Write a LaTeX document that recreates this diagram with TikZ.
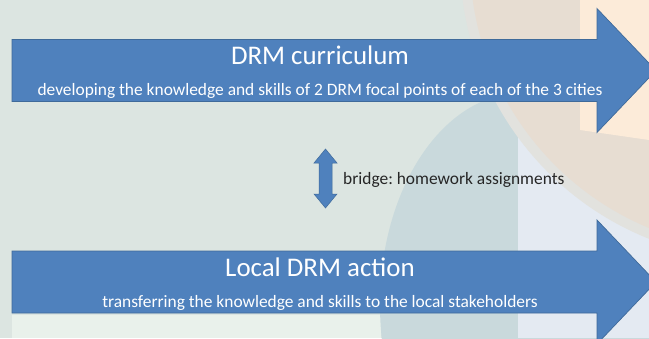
\documentclass[tikz,border=0pt]{standalone}
\usepackage{fontspec}
\setmainfont{Carlito}
\frenchspacing
\definecolor{arrowblue}{HTML}{4F81BD}
\definecolor{arrowedge}{HTML}{3F6A9A}
\definecolor{bgbase}{HTML}{DCE5E1}
\definecolor{bglight}{HTML}{E9F1EB}
\definecolor{bgsky}{HTML}{E4EAF2}
\definecolor{bgsteel}{HTML}{C9D9DC}
\definecolor{bgband}{HTML}{E2E2DE}
\definecolor{bgtan}{HTML}{E7DDD2}
\definecolor{bgpeach}{HTML}{FCEBD9}
\definecolor{bridgetext}{HTML}{262626}
\begin{document}
\begin{tikzpicture}[x=1pt,y=-1pt,
  bigarrow/.style={fill=arrowblue,draw=arrowedge,line width=0.7pt,line join=miter},
  titletext/.style={text=white,inner sep=0pt,font=\fontsize{26.9}{31}\selectfont},
  subtext/.style={text=white,inner sep=0pt,font=\fontsize{17.4}{20}\selectfont},
  bridgelabel/.style={text=bridgetext,inner sep=0pt,anchor=west,font=\fontsize{17.4}{20}\selectfont}]
\useasboundingbox (0,0) rectangle (649,338);
% background
\begin{scope}
\clip (0,0) rectangle (649,338);
\fill[bgbase] (0,0) rectangle (649,338);
\fill[bglight] (12,315) rectangle (381,338);
\fill[bgsteel] (522,305) ellipse [x radius=142, y radius=212];
\fill[bgsky] (518,100) rectangle (649,338);
\fill[bgband] (760,-40) circle [radius=300];
\fill[bgtan] (760,-40) circle [radius=290];
\fill[bgpeach] (580,0) -- (649,0) -- (649,140) -- (580,130) -- cycle;
\end{scope}
% top arrow
\draw[bigarrow] (12,39.5) -- (597,39.5) -- (597,8.5) -- (656,70.5) -- (597,132.5) -- (597,101.5) -- (12,101.5) -- cycle;
\node[titletext] (t1) at (320,55) {DRM curriculum};
\node[subtext] (s1) at (320,91) {developing the knowledge and skills of 2 DRM focal points of each of the 3 cities};
% bottom arrow
\draw[bigarrow] (12,251) -- (597,251) -- (597,220) -- (656,282) -- (597,344) -- (597,313) -- (12,313) -- cycle;
\node[titletext] (t2) at (320,267) {Local DRM action};
\node[subtext] (s2) at (320,303) {transferring the knowledge and skills to the local stakeholders};
% bridge double arrow
\draw[bigarrow,line width=0.5pt] (319,163) -- (314,163) -- (325.5,149) -- (337,163) -- (332,163) -- (332,194) -- (337,194) -- (325.5,208) -- (314,194) -- (319,194) -- cycle;
\node[bridgelabel] (b) at (343,180) {bridge: homework assignments};
\end{tikzpicture}
\end{document}
